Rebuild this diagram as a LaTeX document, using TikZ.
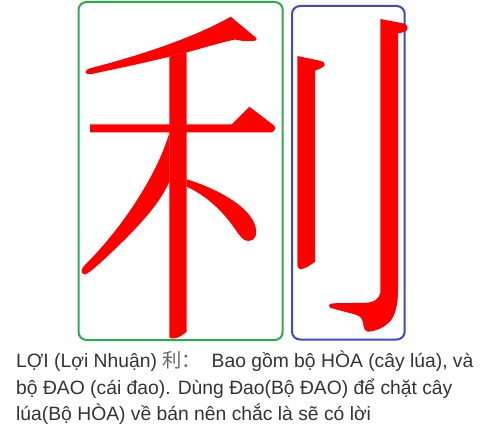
\documentclass[tikz,border=0pt]{standalone}
\usepackage{fontspec}
\setmainfont{Liberation Sans}
\newfontfamily\cjk{Noto Sans CJK SC}
\definecolor{hoagreen}{RGB}{40,175,75}
\definecolor{daoblue}{RGB}{63,72,204}
\definecolor{strokered}{RGB}{255,0,0}
\definecolor{textgray}{RGB}{51,51,51}
\begin{document}
\begin{tikzpicture}[x=1pt,y=-1pt,
  partbox/.style={line width=2pt, rounded corners=8pt},
  glyph/.style={fill=strokered},
  captionline/.style={anchor=base west, inner sep=0pt, text=textgray,
    font=\fontsize{19.3}{26.7}\selectfont}]
  \useasboundingbox (0,0) rectangle (496,436);

  % Boxes round the two parts
  \draw[partbox, hoagreen] (78.5,2) rectangle (282.7,340);
  \draw[partbox, daoblue] (292,6) rectangle (404.7,339.5);

  % HOA: top falling stroke
  \fill[glyph] (230.7,16.7) -- (256,37.7) .. controls (258,40) and (255,41) .. (252,41)
    -- (243,41) .. controls (240,40.5) and (236,39.5) .. (234,39.7)
    .. controls (215,44) and (200,49) .. (186.7,52.3) -- (169.3,56.7)
    .. controls (140,64) and (110,70) .. (91.7,74) .. controls (88,75) and (84,73) .. (86,71)
    .. controls (87,69.5) and (88,69) .. (90,68.3)
    .. controls (130,58) and (190,40) .. (230.7,16.7) -- cycle;
  % HOA: vertical stroke
  \fill[glyph] (169.3,56.7) -- (186.7,52.3) -- (186.7,331.7)
    .. controls (184,334) and (178,338.3) .. (175,338.3) -- (171,338.3)
    .. controls (169.5,338) and (169.3,337) .. (169.3,336) -- cycle;
  % HOA: horizontal stroke
  \fill[glyph] (90,124.3) -- (231.7,124.3) -- (249.3,106.7) -- (273.3,125)
    .. controls (276,127) and (276,130) .. (272,132.3) -- (90,132.3) -- cycle;
  % HOA: left falling stroke
  \fill[glyph] (169.3,133) .. controls (158,172) and (125,225) .. (85,265)
    .. controls (81,269) and (80,273) .. (84.3,274.5)
    .. controls (88,274) and (92,270) .. (101.7,261.7)
    .. controls (130,235) and (158,208) .. (169.3,181.7) -- cycle;
  % HOA: right dot
  \fill[glyph] (186.7,179.3) .. controls (215,188) and (248,205) .. (255,225)
    .. controls (258,235) and (255,241) .. (248.3,241)
    .. controls (243,241) and (240,236) .. (235,229)
    .. controls (222,210) and (205,195) .. (186.7,186.7) -- cycle;

  % DAO: short vertical
  \fill[glyph] (297.3,56) -- (319.7,60.7) .. controls (323,61.5) and (325.5,63) .. (324.7,65)
    .. controls (324,67) and (320,69) .. (315,70.5) -- (315,261.7)
    .. controls (312,264) and (305,269) .. (300.7,269.3)
    .. controls (298.5,269.3) and (297.3,267) .. (297.3,265) -- cycle;
  % DAO: vertical hook
  \fill[glyph] (380.3,19) -- (403,23.3) .. controls (407,24.5) and (408.5,27) .. (407,30)
    .. controls (405,32) and (401,33) .. (398,33.3) -- (398,290)
    .. controls (398,305) and (395,318) .. (388,323.3)
    .. controls (383,328) and (375,331.5) .. (368,331.7)
    .. controls (365,331.5) and (364,329) .. (363.5,326)
    .. controls (363,321) and (362,317) .. (357,315)
    .. controls (350,313) and (338,310) .. (330,307.7)
    .. controls (328,307) and (328,304) .. (333,303.3) -- (368,302.7)
    .. controls (374,302) and (379,299) .. (380.3,293) -- cycle;

  % Caption
  \node[captionline] (line1) at (16,367.5) {LỢI (Lợi Nhuận) {\cjk\color{textgray!75}利：}\ \ Bao gồm bộ HÒA (cây lúa), và};
  \node[captionline] (line2) at (16,394.2) {bộ ĐAO (cái đao). Dùng Đao(Bộ ĐAO) để chặt cây};
  \node[captionline] (line3) at (16,420.9) {lúa(Bộ HÒA) về bán nên chắc là sẽ có lời};
\end{tikzpicture}
\end{document}
